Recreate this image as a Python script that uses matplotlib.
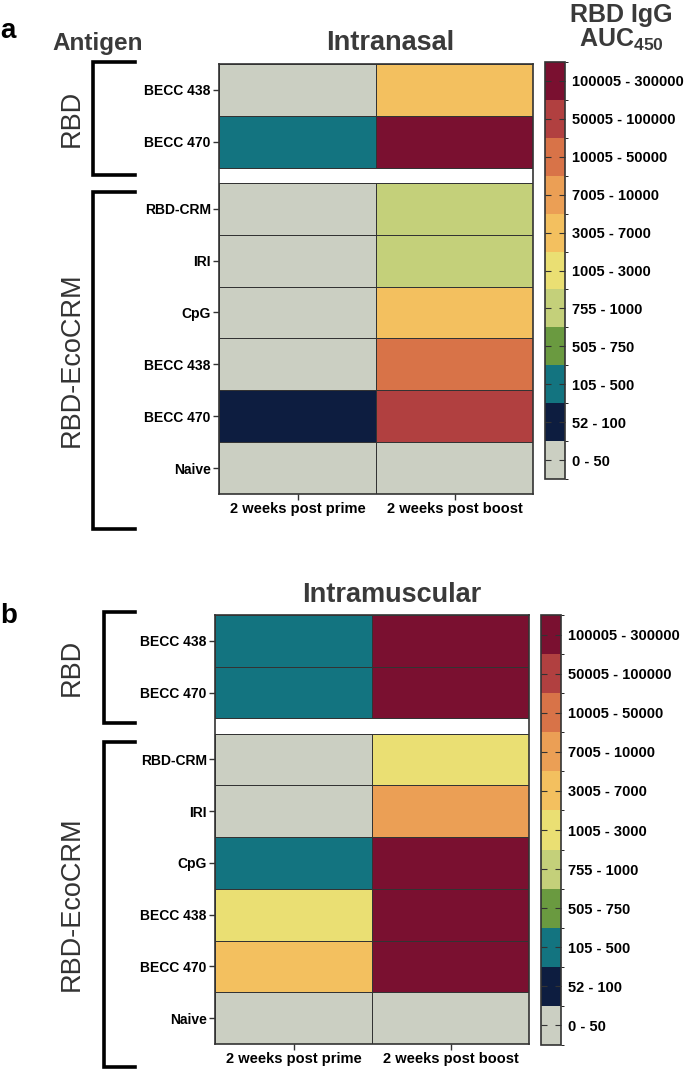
import numpy as np
import matplotlib
matplotlib.use("Agg")
import matplotlib.pyplot as plt
from matplotlib.colors import ListedColormap, BoundaryNorm
from matplotlib.cm import ScalarMappable
from matplotlib.lines import Line2D

plt.rcParams['font.family'] = ['Liberation Sans', 'DejaVu Sans']
plt.rcParams['mathtext.fontset'] = 'custom'
plt.rcParams['mathtext.bf'] = 'Liberation Sans:bold'
plt.rcParams['mathtext.rm'] = 'Liberation Sans:bold'

# categories
timepoints = ["2 weeks post prime", "2 weeks post boost"]
rbd_rows = ["BECC 438", "BECC 470"]
eco_rows = ["RBD-CRM", "IRI", "CpG", "BECC 438", "BECC 470", "Naive"]

bin_labels = ["0 - 50", "52 - 100", "105 - 500", "505 - 750", "755 - 1000",
              "1005 - 3000", "3005 - 7000", "7005 - 10000", "10005 - 50000",
              "50005 - 100000", "100005 - 300000"]
bin_colors = ["#CBCFC2", "#0D1D40", "#137480", "#6A9A40", "#C4D07A",
              "#EADF73", "#F3C05F", "#EB9F55", "#D87348", "#B14040", "#7A1030"]

# AUC bin index per row (RBD rows first, then RBD-EcoCRM rows)
intranasal_prime = [0, 2, 0, 0, 0, 0, 1, 0]
intranasal_boost = [6, 10, 4, 4, 6, 8, 9, 0]
intramuscular_prime = [2, 2, 0, 0, 2, 5, 6, 0]
intramuscular_boost = [10, 10, 5, 7, 10, 10, 10, 0]

W, H = 685, 1071
cmap = ListedColormap(bin_colors)
norm = BoundaryNorm(np.arange(-0.5, len(bin_colors) + 0.5), cmap.N)
gap = 0.29
edge = "#333333"


def fx(x):
    return x / W


def fy(y):
    return 1 - y / H


def heatmap(rect, prime, boost):
    ax = fig.add_axes(rect)
    vals = np.array([prime, boost]).T
    n1 = len(rbd_rows)
    xe = np.arange(3)
    ye1 = np.arange(n1 + 1)
    ye2 = n1 + gap + np.arange(len(eco_rows) + 1)
    ax.pcolormesh(xe, ye1, vals[:n1], cmap=cmap, norm=norm,
                  edgecolors=edge, linewidth=0.6)
    ax.pcolormesh(xe, ye2, vals[n1:], cmap=cmap, norm=norm,
                  edgecolors=edge, linewidth=0.6)
    ax.set_xlim(0, 2)
    ax.set_ylim(ye2[-1], 0)
    centers = list(ye1[:-1] + 0.5) + list(ye2[:-1] + 0.5)
    ax.set_yticks(centers)
    ax.set_yticklabels(rbd_rows + eco_rows, fontsize=10, fontweight='bold')
    ax.set_xticks([0.5, 1.5])
    ax.set_xticklabels(timepoints, fontsize=10.5, fontweight='bold')
    ax.tick_params(length=4, width=1, color='#333333', pad=2)
    for s in ax.spines.values():
        s.set_color(edge)
        s.set_linewidth(1.2)
    return ax


def colorbar(rect):
    cax = fig.add_axes(rect)
    sm = ScalarMappable(norm=norm, cmap=cmap)
    cb = fig.colorbar(sm, cax=cax, ticks=np.arange(len(bin_labels)))
    cb.ax.set_yticklabels(bin_labels, fontsize=10.5, fontweight='bold')
    cb.ax.tick_params(direction='in', left=True, right=True, length=4,
                      width=0.8, color='#333333', pad=5)
    cb.outline.set_linewidth(1.2)
    cb.outline.set_edgecolor(edge)
    return cb


def bracket(x, y0, y1, x1=135):
    fig.add_artist(Line2D([fx(x1), fx(x), fx(x), fx(x1)],
                          [fy(y0), fy(y0), fy(y1), fy(y1)],
                          color='black', linewidth=2.6, solid_joinstyle='miter'))


fig = plt.figure(figsize=(W / 100, H / 100), dpi=100)

# panel a
heatmap([fx(219), fy(494), fx(533) - fx(219), fy(64) - fy(494)],
        intranasal_prime, intranasal_boost)
colorbar([fx(545), fy(479), fx(20), fy(62) - fy(479)])
fig.text(fx(390), fy(50), "Intranasal", ha='center', va='baseline',
         fontsize=19.5, fontweight='bold', color='#3a3a3a')
fig.text(fx(621), fy(22), "RBD IgG", ha='center', va='baseline',
         fontsize=18, fontweight='bold', color='#3a3a3a')
fig.text(fx(621), fy(47), r"$\mathbf{AUC_{450}}$", ha='center', va='baseline',
         fontsize=18, color='#3a3a3a')
fig.text(fx(0), fy(38), "a", ha='left', va='baseline', fontsize=20,
         fontweight='bold', color='black')
fig.text(fx(52), fy(50), "Antigen", ha='left', va='baseline', fontsize=17.5,
         fontweight='bold', color='#3a3a3a')
bracket(93, 62, 175)
bracket(93, 192, 529)
fig.text(fx(72), fy(118), "RBD", rotation=90, ha='center', va='center',
         fontsize=19.5, color='#333333')
fig.text(fx(72), fy(360), "RBD-EcoCRM", rotation=90, ha='center', va='center',
         fontsize=19.5, color='#333333')

# panel b
heatmap([fx(215), fy(1044), fx(529) - fx(215), fy(615) - fy(1044)],
        intramuscular_prime, intramuscular_boost)
colorbar([fx(541), fy(1045), fx(20), fy(615) - fy(1045)])
fig.text(fx(392), fy(602), "Intramuscular", ha='center', va='baseline',
         fontsize=19.5, fontweight='bold', color='#3a3a3a')
fig.text(fx(0), fy(623), "b", ha='left', va='baseline', fontsize=20,
         fontweight='bold', color='black')
bracket(104, 612, 723)
bracket(104, 742, 1067)
fig.text(fx(72), fy(667), "RBD", rotation=90, ha='center', va='center',
         fontsize=19.5, color='#333333')
fig.text(fx(72), fy(904), "RBD-EcoCRM", rotation=90, ha='center', va='center',
         fontsize=19.5, color='#333333')

fig.savefig("out.png", dpi=100, facecolor='white')
